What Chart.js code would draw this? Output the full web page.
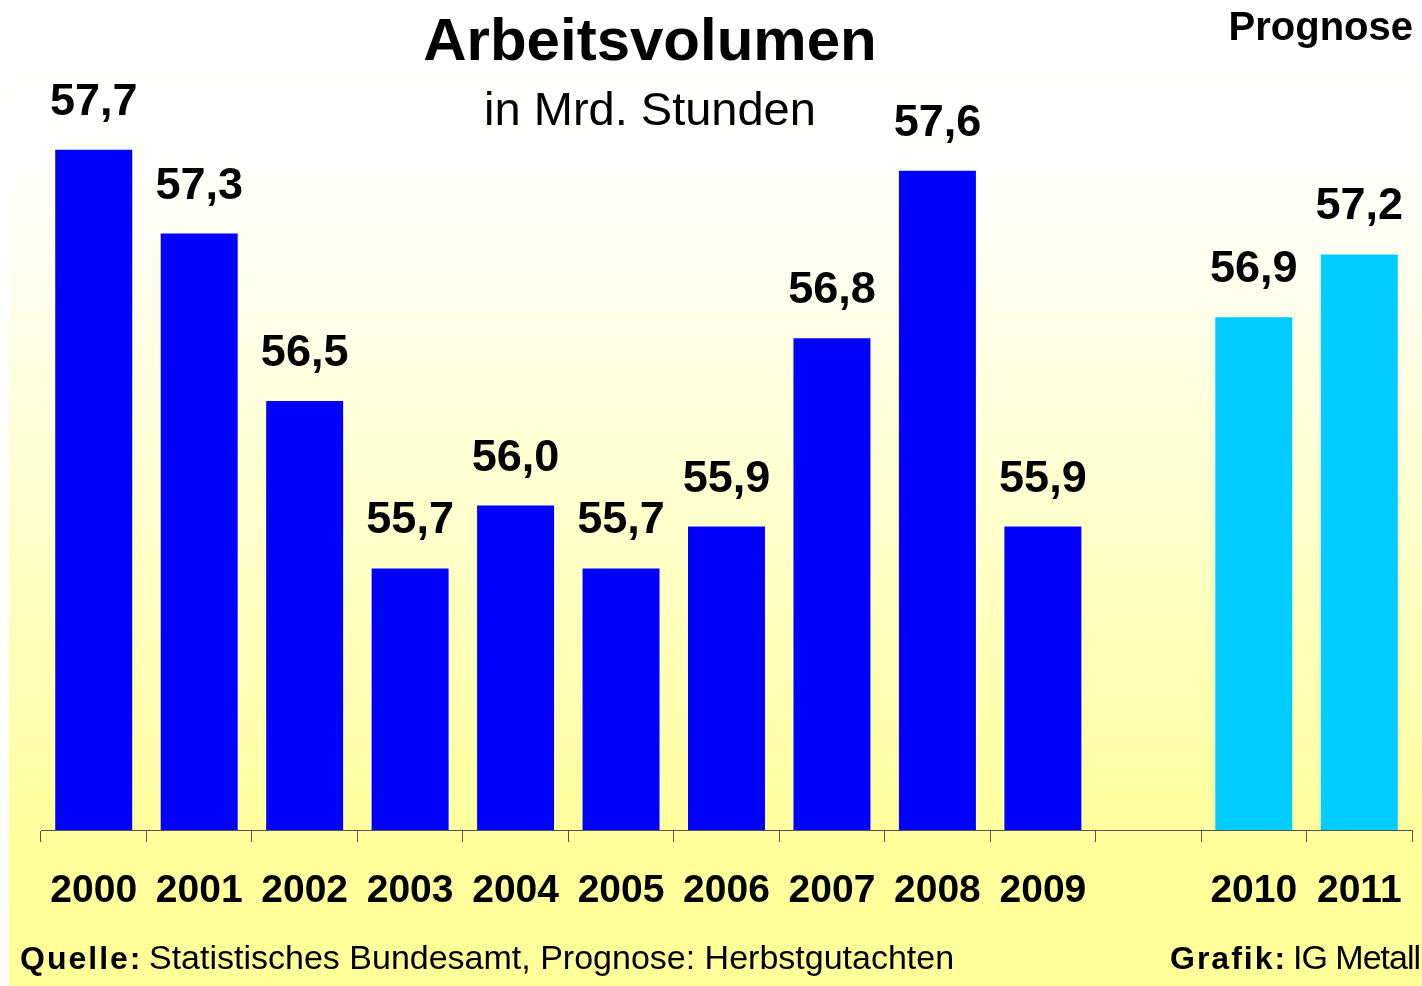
<!DOCTYPE html>
<html>
<head>
<meta charset="utf-8">
<script src="https://cdn.jsdelivr.net/npm/chart.js@4/dist/chart.umd.min.js"></script>
<style>
  html, body { margin: 0; padding: 0; background: #fff; }
  #wrap { width: 1422px; height: 986px; position: relative; }
</style>
</head>
<body>
<div id="wrap"><canvas id="chart"></canvas></div>
<script>
// Daten: Arbeitsvolumen in Mrd. Stunden (leerer Platz vor der Prognose)
const jahre = ["2000", "2001", "2002", "2003", "2004", "2005", "2006", "2007", "2008", "2009", "", "2010", "2011"];
const stunden = [57.7, 57.3, 56.5, 55.7, 56.0, 55.7, 55.9, 56.8, 57.6, 55.9, null, 56.9, 57.2];
const prognose = [false, false, false, false, false, false, false, false, false, false, false, true, true];

const FONT = "'Liberation Sans', Arial, sans-serif";
const blau = "#0000ff";
const hellblau = "#00ccff";

// Hintergrund + Texte
const deko = {
  id: "deko",
  beforeDraw(chart) {
    const c = chart.ctx;
    c.save();
    c.fillStyle = "#ffffff";
    c.fillRect(0, 0, chart.width, chart.height);
    const g = c.createLinearGradient(0, 60, 0, chart.height);
    g.addColorStop(0, "#ffffff");
    g.addColorStop(0.15, "#fffffa");
    g.addColorStop(0.85, "#ffff9c");
    g.addColorStop(1, "#ffff99");
    c.fillStyle = g;
    c.fillRect(9, 60, chart.width - 9, chart.height - 60);
    c.restore();
  },
  afterDraw(chart) {
    const c = chart.ctx;
    c.save();
    c.fillStyle = "#000";
    c.textBaseline = "alphabetic";

    c.textAlign = "center";
    c.font = "bold 60px " + FONT;
    c.fillText("Arbeitsvolumen", 650, 60);
    c.font = "47px " + FONT;
    c.fillText("in Mrd. Stunden", 650, 125);

    c.textAlign = "right";
    c.font = "bold 40px " + FONT;
    c.fillText("Prognose", 1413, 40);

    // Fußzeile
    c.textAlign = "left";
    c.font = "bold 32px " + FONT;
    c.letterSpacing = "2px";
    c.fillText("Quelle:", 20, 969);
    c.fillText("Grafik:", 1170, 969);
    c.letterSpacing = "0px";
    c.font = "34px " + FONT;
    c.fillText("Statistisches Bundesamt, Prognose: Herbstgutachten", 149, 969);
    c.textAlign = "right";
    c.letterSpacing = "-1px";
    c.fillText("IG Metall", 1420, 969);
    c.letterSpacing = "0px";
    c.restore();
  }
};

// Werte über den Balken
const werte = {
  id: "werte",
  afterDatasetsDraw(chart) {
    const c = chart.ctx;
    const meta = chart.getDatasetMeta(0);
    c.save();
    c.letterSpacing = "0px";
    c.fillStyle = "#000";
    c.textAlign = "center";
    c.textBaseline = "alphabetic";
    c.font = "bold 45px " + FONT;
    meta.data.forEach((bar, i) => {
      const v = stunden[i];
      if (v == null) return;
      c.fillText(v.toFixed(1).replace(".", ","), bar.x, bar.y - 35);
    });
    c.restore();
  }
};

new Chart(document.getElementById("chart"), {
  type: "bar",
  data: {
    labels: jahre,
    datasets: [{
      data: stunden,
      backgroundColor: prognose.map(p => p ? hellblau : blau),
      borderWidth: 0,
      barPercentage: 0.73,
      categoryPercentage: 1
    }]
  },
  options: {
    responsive: true,
    maintainAspectRatio: false,
    animation: false,
    layout: { padding: { left: 41, right: 10, top: 87, bottom: 0 } },
    plugins: { legend: { display: false }, tooltip: { enabled: false } },
    scales: {
      y: { display: false, min: 54.45, max: 58.0 },
      x: {
        afterFit: (scale) => {
          scale.height = 156;
          scale.paddingLeft = 0;
          scale.paddingRight = 0;
        },
        grid: {
          offset: true,
          drawOnChartArea: false,
          drawTicks: true,
          tickLength: 12,
          color: "#555"
        },
        border: { display: true, color: "#555", width: 1 },
        ticks: {
          color: "#000",
          padding: 26,
          maxRotation: 0,
          autoSkip: false,
          font: { family: FONT, size: 39, weight: "bold", lineHeight: 1.2 }
        }
      }
    }
  },
  plugins: [deko, werte]
});
</script>
</body>
</html>
